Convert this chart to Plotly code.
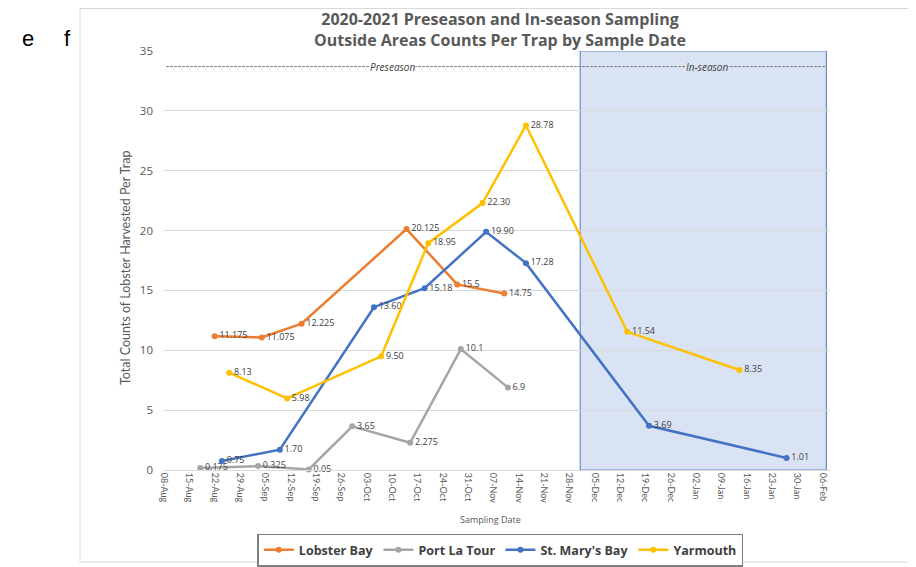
import plotly.graph_objects as go

# ---- data ----
lobster_dates = ["2020-08-22", "2020-09-04", "2020-09-15", "2020-10-14", "2020-10-28", "2020-11-10"]
lobster_vals = [11.175, 11.075, 12.225, 20.125, 15.5, 14.75]
lobster_lbls = ["11.175", "11.075", "12.225", "20.125", "15.5", "14.75"]

port_dates = ["2020-08-18", "2020-09-03", "2020-09-17", "2020-09-29", "2020-10-15", "2020-10-29", "2020-11-11"]
port_vals = [0.175, 0.325, 0.05, 3.65, 2.275, 10.1, 6.9]
port_lbls = ["0.175", "0.325", "0.05", "3.65", "2.275", "10.1", "6.9"]

stmary_dates = ["2020-08-24", "2020-09-09", "2020-10-05", "2020-10-19", "2020-11-05", "2020-11-16", "2020-12-20", "2021-01-27"]
stmary_vals = [0.75, 1.70, 13.60, 15.18, 19.90, 17.28, 3.69, 1.01]
stmary_lbls = ["0.75", "1.70", "13.60", "15.18", "19.90", "17.28", "3.69", "1.01"]

yar_dates = ["2020-08-26", "2020-09-11", "2020-10-07", "2020-10-20", "2020-11-04", "2020-11-16", "2020-12-14", "2021-01-14"]
yar_vals = [8.13, 5.98, 9.50, 18.95, 22.30, 28.78, 11.54, 8.35]
yar_lbls = ["8.13", "5.98", "9.50", "18.95", "22.30", "28.78", "11.54", "8.35"]

series_names = ["Lobster Bay", "Port La Tour", "St. Mary's Bay", "Yarmouth"]
series_colors = ["#ED7D31", "#A5A5A5", "#4472C4", "#FFC000"]

tick_dates = ["2020-08-08", "2020-08-15", "2020-08-22", "2020-08-29", "2020-09-05", "2020-09-12",
              "2020-09-19", "2020-09-26", "2020-10-03", "2020-10-10", "2020-10-17", "2020-10-24",
              "2020-10-31", "2020-11-07", "2020-11-14", "2020-11-21", "2020-11-28", "2020-12-05",
              "2020-12-12", "2020-12-19", "2020-12-26", "2021-01-02", "2021-01-09", "2021-01-16",
              "2021-01-23", "2021-01-30", "2021-02-06"]
y_ticks = [0, 5, 10, 15, 20, 25, 30, 35]

inseason_start = "2020-12-01"
inseason_end = "2021-02-07"
season_line_y = 33.7

VFONT = "Lato, 'Open Sans', sans-serif"       # rotated texts
HFONT = "'Open Sans', Lato, sans-serif"       # horizontal texts

fig = go.Figure()
data = [(lobster_dates, lobster_vals, lobster_lbls),
        (port_dates, port_vals, port_lbls),
        (stmary_dates, stmary_vals, stmary_lbls),
        (yar_dates, yar_vals, yar_lbls)]
for (d, v, l), name, col in zip(data, series_names, series_colors):
    fig.add_trace(go.Scatter(
        x=d, y=v, text=l, name="<b>" + name + "</b>",
        mode="lines+markers+text", textposition="middle right",
        textfont=dict(size=9, color="#404040", family=HFONT),
        line=dict(color=col, width=2.5),
        marker=dict(color=col, size=6),
        cliponaxis=False,
    ))

# in-season box
fig.add_shape(type="rect", xref="x", yref="y", x0=inseason_start, x1=inseason_end, y0=0, y1=35,
              fillcolor="#DAE3F3", line=dict(color="#6A8CC7", width=1.2), layer="below")
# season dashed line
fig.add_shape(type="line", xref="paper", yref="y", x0=0.003, x1=0.995, y0=season_line_y, y1=season_line_y,
              line=dict(color="#7F7F7F", width=1, dash="3px,1px"))
# chart frame
fig.add_shape(type="rect", xref="paper", yref="paper", x0=-0.1261, x1=1.2, y0=-0.2196, y1=1.1014,
              line=dict(color="#D9D9D9", width=1), fillcolor="rgba(0,0,0,0)")

fig.add_annotation(x="2020-10-10", y=season_line_y, xref="x", yref="y", text="<i>Preseason</i>",
                   showarrow=False, font=dict(size=10, color="#404040", family=HFONT), bgcolor="white",
                   borderpad=0)
fig.add_annotation(x="2021-01-05", y=season_line_y, xref="x", yref="y", text="<i>In-season</i>",
                   showarrow=False, font=dict(size=10, color="#404040", family=HFONT), bgcolor="#DAE3F3",
                   borderpad=0)

fig.add_annotation(x=0.505, y=1.0525, xref="paper", yref="paper", showarrow=False,
                   text="<b>2020-2021 Preseason and In-season Sampling<br>Outside Areas Counts Per Trap by Sample Date</b>",
                   font=dict(size=16, color="#595959", family=HFONT), align="center",
                   xanchor="center", yanchor="middle")
fig.add_annotation(x=-0.0586, y=0.482, xref="paper", yref="paper", showarrow=False, textangle=-90,
                   text="Total Counts of Lobster Harvested Per Trap", xanchor="center", yanchor="middle",
                   font=dict(size=12.5, color="#595959", family=VFONT))
fig.add_annotation(x=0.49, y=-0.119, xref="paper", yref="paper", showarrow=False,
                   xanchor="center", yanchor="middle",
                   text="Sampling Date", font=dict(size=9, color="#595959", family=HFONT))
fig.add_annotation(x=-0.2042, y=1.031, xref="paper", yref="paper", showarrow=False,
                   xanchor="center", yanchor="middle",
                   text="e", font=dict(size=22, color="black", family="Liberation Sans, Arial"))
fig.add_annotation(x=-0.1456, y=1.031, xref="paper", yref="paper", showarrow=False,
                   xanchor="center", yanchor="middle",
                   text="f", font=dict(size=22, color="black", family="Liberation Sans, Arial"))

fig.update_layout(
    width=916, height=567,
    margin=dict(l=156, r=94, t=43, b=105, autoexpand=False),
    paper_bgcolor="white", plot_bgcolor="white",
    font=dict(family=HFONT, color="#595959"),
    showlegend=True,
    legend=dict(orientation="h", x=0.505, xanchor="center", y=-0.152, yanchor="top",
                bordercolor="#7F7F7F", borderwidth=1.5, bgcolor="white",
                font=dict(size=12.5, color="#404040", family=HFONT), itemwidth=30,
                tracegroupgap=0),
    xaxis=dict(type="date", range=["2020-08-08", "2021-02-08"],
               tickvals=tick_dates, tickformat="%d-%b", tickangle=90,
               tickfont=dict(size=9, color="#595959", family=VFONT),
               showgrid=False, showline=True, linecolor="#D9D9D9", zeroline=False,
               ticks=""),
    yaxis=dict(range=[0, 35], tickvals=y_ticks, showgrid=True, gridcolor="#D9D9D9",
               tickfont=dict(size=11.5, color="#595959", family=HFONT), zeroline=False,
               ticklabelstandoff=10, showline=False),
)

fig.write_html("out.html")
